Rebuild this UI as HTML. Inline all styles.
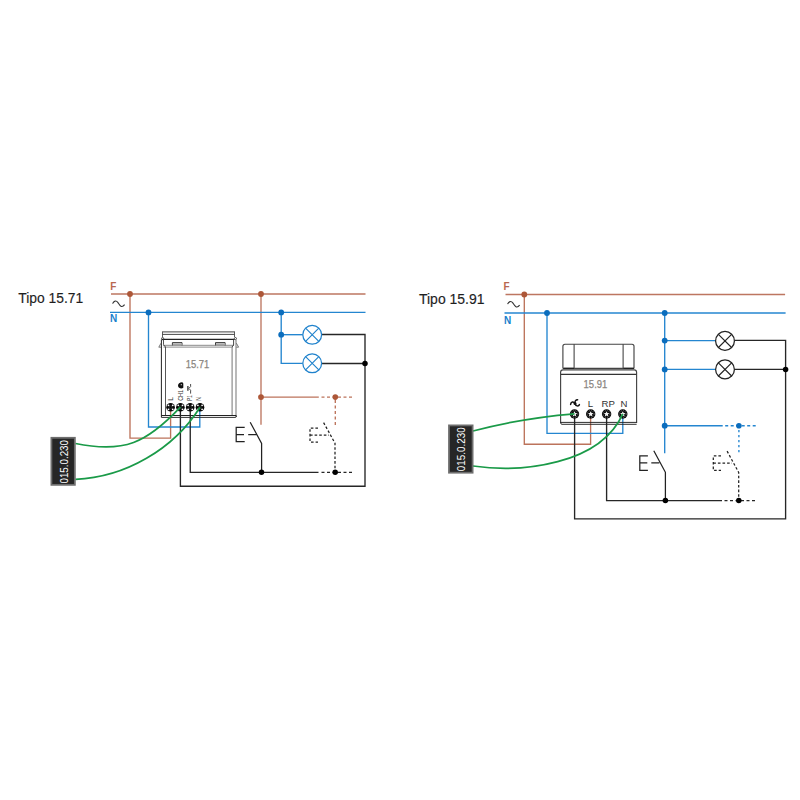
<!DOCTYPE html>
<html><head><meta charset="utf-8">
<style>
html,body{margin:0;padding:0;background:#fff;width:800px;height:800px;overflow:hidden}
svg{display:block}
text{font-family:"Liberation Sans",sans-serif}
</style></head>
<body>
<svg width="800" height="800" viewBox="0 0 800 800">

<!-- ================= DIAGRAM 1 : Tipo 15.71 ================= -->
<text x="18.2" y="303.2" font-size="14.3" fill="#1e1e1e" stroke="#1e1e1e" stroke-width="0.15" textLength="65" lengthAdjust="spacingAndGlyphs">Tipo 15.71</text>
<text x="110.3" y="290" font-size="10" font-weight="bold" fill="#b8684f">F</text>
<text x="110" y="322.2" font-size="10" font-weight="bold" fill="#1a7fcc">N</text>
<path d="M112.6,303.6 C113.8,300.6 116.2,300.2 118,302.6 C119.8,305.4 121.6,308.6 124.6,304.6" fill="none" stroke="#333" stroke-width="1.15"/>

<g fill="none" stroke-width="1.35">
  <!-- brown -->
  <path d="M111,294H365.5" stroke="#bd7660"/>
  <path d="M130,294V438.1H170.6V407" stroke="#bc735b"/>
  <path d="M261,294V424.7" stroke="#bd7660"/>
  <path d="M261,397.1H318.8" stroke="#bc735b"/>
  <path d="M321.5,397.1H353" stroke="#bc735b" stroke-dasharray="3 2.5"/>
  <path d="M335.3,400V425.2" stroke="#bc735b" stroke-dasharray="3 2.5"/>
  <!-- blue -->
  <path d="M110,312.4H365.5" stroke="#2486d0"/>
  <path d="M148.5,312.4V427H199.8V407" stroke="#2486d0"/>
  <path d="M281.2,312.4V363.3H302.8" stroke="#2486d0"/>
  <path d="M281.2,334.7H302.8" stroke="#2486d0"/>
  <!-- black -->
  <path d="M180.4,407V486.25H365V334.5H321.7" stroke="#262626"/>
  <path d="M321.7,363.5H365" stroke="#262626"/>
  <path d="M190.25,407V472.3H318.5" stroke="#262626"/>
  <path d="M321.5,472.3H353.5" stroke="#262626" stroke-dasharray="3 2.5"/>
  <!-- switch solid -->
  <path d="M244.7,427.3H236.2V441.6H244.7M236.2,434.5H244M248.2,434.5H256.5M250.2,422.2L261.6,443.5V472.3" stroke="#222" stroke-width="1.25"/>
  <!-- switch dashed -->
  <path d="M318,428H310V442H318M310,435H329M323.6,422.6L335,443.2V472.3" stroke="#222" stroke-width="1.25" stroke-dasharray="2.6 2"/>
</g>
<g fill="#ad5738">
  <circle cx="130" cy="294" r="2.9"/>
  <circle cx="261" cy="294" r="2.9"/>
  <circle cx="261" cy="397.1" r="2.9"/>
  <circle cx="335.3" cy="397.1" r="2.8"/>
</g>
<g fill="#0b6dbd">
  <circle cx="148.5" cy="312.4" r="2.9"/>
  <circle cx="281.2" cy="312.4" r="2.9"/>
  <circle cx="281.2" cy="334.7" r="2.9"/>
</g>
<g fill="#000">
  <circle cx="365" cy="363.4" r="2.75"/>
  <circle cx="261.5" cy="472.3" r="2.75"/>
  <circle cx="335.2" cy="472.3" r="2.75"/>
</g>
<g transform="translate(312.2,334.8)"><circle r="9.4" fill="#fff" stroke="#1f82cc" stroke-width="1.25"/>
    <path d="M-6.6,-6.6L6.6,6.6M6.6,-6.6L-6.6,6.6" stroke="#1f82cc" stroke-width="1.15"/></g>
<g transform="translate(312.2,363.3)"><circle r="9.4" fill="#fff" stroke="#1f82cc" stroke-width="1.25"/>
    <path d="M-6.6,-6.6L6.6,6.6M6.6,-6.6L-6.6,6.6" stroke="#1f82cc" stroke-width="1.15"/></g>

<!-- device 15.71 -->
<g fill="none" stroke="#222" stroke-width="0.9">
  <path d="M162.5,331.9H234.5" stroke="#666" stroke-width="1.1"/>
  <path d="M162.5,334.4H234.5" stroke="#333"/>
  <path d="M162.5,331.5V337M234.5,331.5V337" stroke="#333" stroke-width="0.8"/>
  <circle cx="162.6" cy="338.6" r="1.1" stroke-width="0.8"/>
  <circle cx="235.4" cy="338.6" r="1.1" stroke-width="0.8"/>
  <path d="M162,339.4H234.5" stroke-width="1.1"/>
  <path d="M172.4,346V342.6H182V346M215.5,346V342.6H225.1V346" stroke-width="0.9"/>
  <path d="M173,344.2H181.5M216,344.2H224.5" stroke="#aaa" stroke-width="2"/>
  <path d="M163,345.3H234M163.5,347.1H233" stroke="#8a8a8a" stroke-width="1"/>
  <path d="M161.4,339.5V417.4" stroke-width="1"/>
  <path d="M163.5,339.5V344.6L165.5,347V415.5" stroke="#444" stroke-width="0.9"/>
  <path d="M233.6,339.5V345L232,347" stroke="#333" stroke-width="0.9"/>
  <path d="M232.1,347V415.5M236,340V417" stroke="#8c8c8c" stroke-width="1.2"/>
  <path d="M161,343.2L158.8,347.2H161M236.4,343.2L238.6,347.2H236.4" stroke="#555" stroke-width="0.8"/>
  <path d="M161.4,415.5H236.5" stroke-width="1"/>
  <path d="M161.4,417.4H235Q236.5,417.4 236.5,416" stroke="#333" stroke-width="1"/>
</g>
<text x="185.7" y="367.9" font-size="10.8" fill="#8a8580" stroke="#8a8580" stroke-width="0.25" textLength="23.6" lengthAdjust="spacingAndGlyphs">15.71</text>
<g font-size="6.6" fill="#333">
  <text transform="translate(172.8,400.8) rotate(-90)">L</text>
  <text transform="translate(183.1,400.8) rotate(-90)" textLength="10.8" lengthAdjust="spacingAndGlyphs">CH1</text>
  <text transform="translate(191.8,400.8) rotate(-90)" textLength="5.5" lengthAdjust="spacingAndGlyphs">P1</text>
  <text transform="translate(201.3,400.8) rotate(-90)" textLength="3.8" lengthAdjust="spacingAndGlyphs">N</text>
</g>
<path d="M178,385.8 C178,383.4 180,382 182.4,382.2 L183.3,383.6 L183.3,387.8 C181.6,388.9 178.4,388.6 178,385.8Z" fill="#111"/><circle cx="181.3" cy="384.7" r="0.6" fill="#ddd"/>
<path d="M187.9,386V390.8" fill="none" stroke="#333" stroke-width="1.3"/><path d="M190.6,384V386.6L188.8,388.4L190.6,390.2V393.6" fill="none" stroke="#444" stroke-width="0.95"/>

<g transform="translate(170.6,407.2)"><circle r="4.3" fill="#080808"/>
    <circle r="1.4" fill="none" stroke="#444" stroke-width="0.5"/>
    <g fill="#fff">
      <circle cx="-2.1" cy="-1.9" r="0.9"/><circle cx="2.1" cy="-1.9" r="0.9"/>
      <circle cx="-2.1" cy="2.1" r="0.9"/><circle cx="2.1" cy="2.1" r="0.9"/>
    </g></g>
<g transform="translate(180.4,407.2)"><circle r="4.3" fill="#080808"/>
    <circle r="1.4" fill="none" stroke="#444" stroke-width="0.5"/>
    <g fill="#fff">
      <circle cx="-2.1" cy="-1.9" r="0.9"/><circle cx="2.1" cy="-1.9" r="0.9"/>
      <circle cx="-2.1" cy="2.1" r="0.9"/><circle cx="2.1" cy="2.1" r="0.9"/>
    </g></g>
<g transform="translate(190.2,407.2)"><circle r="4.3" fill="#080808"/>
    <circle r="1.4" fill="none" stroke="#444" stroke-width="0.5"/>
    <g fill="#fff">
      <circle cx="-2.1" cy="-1.9" r="0.9"/><circle cx="2.1" cy="-1.9" r="0.9"/>
      <circle cx="-2.1" cy="2.1" r="0.9"/><circle cx="2.1" cy="2.1" r="0.9"/>
    </g></g>
<g transform="translate(200,407.2)"><circle r="4.3" fill="#080808"/>
    <circle r="1.4" fill="none" stroke="#444" stroke-width="0.5"/>
    <g fill="#fff">
      <circle cx="-2.1" cy="-1.9" r="0.9"/><circle cx="2.1" cy="-1.9" r="0.9"/>
      <circle cx="-2.1" cy="2.1" r="0.9"/><circle cx="2.1" cy="2.1" r="0.9"/>
    </g></g>

<!-- green wires -->
<g fill="none" stroke="#1a9a48" stroke-width="1.75">
  <path d="M75.5,443.5 C124.2,453.4 146.6,443.1 180.4,407.2"/>
  <path d="M75.5,479.3 C125.0,477.4 173.8,449.2 200.0,407.2"/>
</g>
<rect x="51.4" y="437.8" width="23.45" height="47.05" fill="#262626" stroke="#6e6e6e" stroke-width="1.8"/>
<text transform="translate(67.8,483.5) rotate(-90)" font-size="11.5" fill="#fff" textLength="43.5" lengthAdjust="spacingAndGlyphs">015.0.230</text>

<!-- ================= DIAGRAM 2 : Tipo 15.91 ================= -->
<text x="419" y="304" font-size="14.3" fill="#1e1e1e" stroke="#1e1e1e" stroke-width="0.15" textLength="65.5" lengthAdjust="spacingAndGlyphs">Tipo 15.91</text>
<text x="503.6" y="290.3" font-size="10" font-weight="bold" fill="#b8684f">F</text>
<text x="504" y="324" font-size="10" font-weight="bold" fill="#1a7fcc">N</text>
<path d="M507.6,304.1 C508.8,301.1 511.2,300.7 513,303.1 C514.8,305.9 516.6,309.1 519.6,305.1" fill="none" stroke="#333" stroke-width="1.15"/>

<g fill="none" stroke-width="1.35">
  <path d="M505.5,294.5H785.1" stroke="#bd7660"/>
  <path d="M524.3,294.5V444.2H590.6V413.8" stroke="#bc735b"/>
  <path d="M504.5,313H785.6" stroke="#2486d0"/>
  <path d="M547,313V433.4H622.8V413.8" stroke="#2486d0"/>
  <path d="M664.7,313V453.3" stroke="#2486d0"/>
  <path d="M664.7,340.6H715.5M664.7,369.4H715.5" stroke="#2486d0"/>
  <path d="M664.7,425.7H722.7" stroke="#2486d0"/>
  <path d="M725.2,425.7H757" stroke="#2486d0" stroke-dasharray="3 2.5"/>
  <path d="M738.9,430V454" stroke="#2486d0" stroke-dasharray="2.2 2.8"/>
  <!-- black -->
  <path d="M734.5,340.4H785.6V518.8H574.6V413.8" stroke="#262626"/>
  <path d="M734.5,369.4H785.6" stroke="#262626"/>
  <path d="M606.6,413.8V500.6H722" stroke="#262626"/>
  <path d="M724.5,500.6H757" stroke="#262626" stroke-dasharray="3 2.5"/>
  <path d="M647.9,455.8H639.8V470.4H647.9M639.8,462.9H647.3M651.3,462.9H659.3M653.8,450.7L665.4,472.3V500.6" stroke="#222" stroke-width="1.25"/>
  <path d="M721,455.9H713.3V470.4H721M713.3,463.1H732M727.1,451.1L738.7,472.5V500.6" stroke="#222" stroke-width="1.25" stroke-dasharray="2.6 2"/>
</g>
<g fill="#ad5738">
  <circle cx="524.3" cy="294.5" r="2.9"/>
</g>
<g fill="#0b6dbd">
  <circle cx="547" cy="313" r="2.9"/>
  <circle cx="664.7" cy="313" r="2.9"/>
  <circle cx="664.7" cy="340.6" r="2.9"/>
  <circle cx="664.7" cy="369.4" r="2.9"/>
  <circle cx="664.7" cy="425.7" r="2.9"/>
  <circle cx="738.9" cy="425.7" r="2.8"/>
</g>
<g fill="#000">
  <circle cx="785.6" cy="369.4" r="2.75"/>
  <circle cx="665.4" cy="500.6" r="2.75"/>
  <circle cx="738.8" cy="500.6" r="2.75"/>
</g>
<g transform="translate(725,340.9)"><circle r="9.4" fill="#fff" stroke="#222" stroke-width="1.25"/>
    <path d="M-6.6,-6.6L6.6,6.6M6.6,-6.6L-6.6,6.6" stroke="#222" stroke-width="1.15"/></g>
<g transform="translate(725,369.4)"><circle r="9.4" fill="#fff" stroke="#222" stroke-width="1.25"/>
    <path d="M-6.6,-6.6L6.6,6.6M6.6,-6.6L-6.6,6.6" stroke="#222" stroke-width="1.15"/></g>

<!-- device 15.91 -->
<g fill="none" stroke="#444" stroke-width="1.15">
  <path d="M562.9,368.4V346.3Q562.9,344.2 565,344.2H632Q634,344.2 634,346.3V368.4"/>
  <path d="M574.1,344.3V368.4M623.1,344.3V368.4" stroke="#333" stroke-width="1"/>
  <path d="M562.9,368.4H634" stroke-width="1.2"/>
  <path d="M563.5,368.4H574M623.5,368.4H634" stroke="#222" stroke-width="1.2"/>
  <path d="M560.6,423V372.3Q560.6,369.9 563,369.9H634.2Q636.6,369.9 636.6,372.3V423"/>
  <path d="M560.8,374.4H636.3" stroke="#333" stroke-width="1.1"/>
  <path d="M560.6,422.4H636.6M562,424.3H636.6M560.6,422.4Q560.6,424.3 562,424.3" stroke="#222" stroke-width="0.95"/>
</g>
<text x="583.6" y="387.9" font-size="10.2" fill="#8a8580" stroke="#8a8580" stroke-width="0.25" textLength="23.7" lengthAdjust="spacingAndGlyphs">15.91</text>
<g font-size="9.6" fill="#333">
  <text x="587.8" y="406.7">L</text>
  <text x="601.6" y="406.7">RP</text>
  <text x="620.4" y="406.7">N</text>
</g>
<g fill="none" stroke="#111" stroke-width="1.5" stroke-linecap="round"><path d="M570.6,404.4 C571,401.8 573.4,401.2 575,403.4"/><path d="M575,403.4 C574.6,401.4 575.6,399.8 577.6,399.8"/><path d="M575,403.4 C575.6,406.4 578.6,406.6 579.4,404.6"/></g><circle cx="575" cy="403.6" r="1.5" fill="#111"/>
<g transform="translate(574.5,414)"><circle r="4.7" fill="#0a0a0a"/>
    <path d="M0,-2.8 L0.9,-1 2.7,-0.9 1.3,0.5 1.8,2.5 0,1.4 -1.8,2.5 -1.3,0.5 -2.7,-0.9 -0.9,-1Z" fill="#f2f2f2"/>
    <circle r="3.4" fill="none" stroke="#fff" stroke-width="0.45" stroke-dasharray="0.8 1.2"/></g>
<g transform="translate(590.7,414)"><circle r="4.7" fill="#0a0a0a"/>
    <path d="M0,-2.8 L0.9,-1 2.7,-0.9 1.3,0.5 1.8,2.5 0,1.4 -1.8,2.5 -1.3,0.5 -2.7,-0.9 -0.9,-1Z" fill="#f2f2f2"/>
    <circle r="3.4" fill="none" stroke="#fff" stroke-width="0.45" stroke-dasharray="0.8 1.2"/></g>
<g transform="translate(606.6,414)"><circle r="4.7" fill="#0a0a0a"/>
    <path d="M0,-2.8 L0.9,-1 2.7,-0.9 1.3,0.5 1.8,2.5 0,1.4 -1.8,2.5 -1.3,0.5 -2.7,-0.9 -0.9,-1Z" fill="#f2f2f2"/>
    <circle r="3.4" fill="none" stroke="#fff" stroke-width="0.45" stroke-dasharray="0.8 1.2"/></g>
<g transform="translate(622.8,414)"><circle r="4.7" fill="#0a0a0a"/>
    <path d="M0,-2.8 L0.9,-1 2.7,-0.9 1.3,0.5 1.8,2.5 0,1.4 -1.8,2.5 -1.3,0.5 -2.7,-0.9 -0.9,-1Z" fill="#f2f2f2"/>
    <circle r="3.4" fill="none" stroke="#fff" stroke-width="0.45" stroke-dasharray="0.8 1.2"/></g>

<g fill="none" stroke="#1a9a48" stroke-width="1.75">
  <path d="M473.0,431.0 C506.2,422.2 540.2,416.6 574.5,413.8"/>
  <path d="M473.0,466.0 C521.9,473.0 599.9,464.8 622.8,413.8"/>
</g>
<rect x="449" y="425.4" width="23.6" height="47.3" fill="#262626" stroke="#6e6e6e" stroke-width="1.8"/>
<text transform="translate(465.3,471.3) rotate(-90)" font-size="11.5" fill="#fff" textLength="44" lengthAdjust="spacingAndGlyphs">015.0.230</text>

</svg>
</body></html>
